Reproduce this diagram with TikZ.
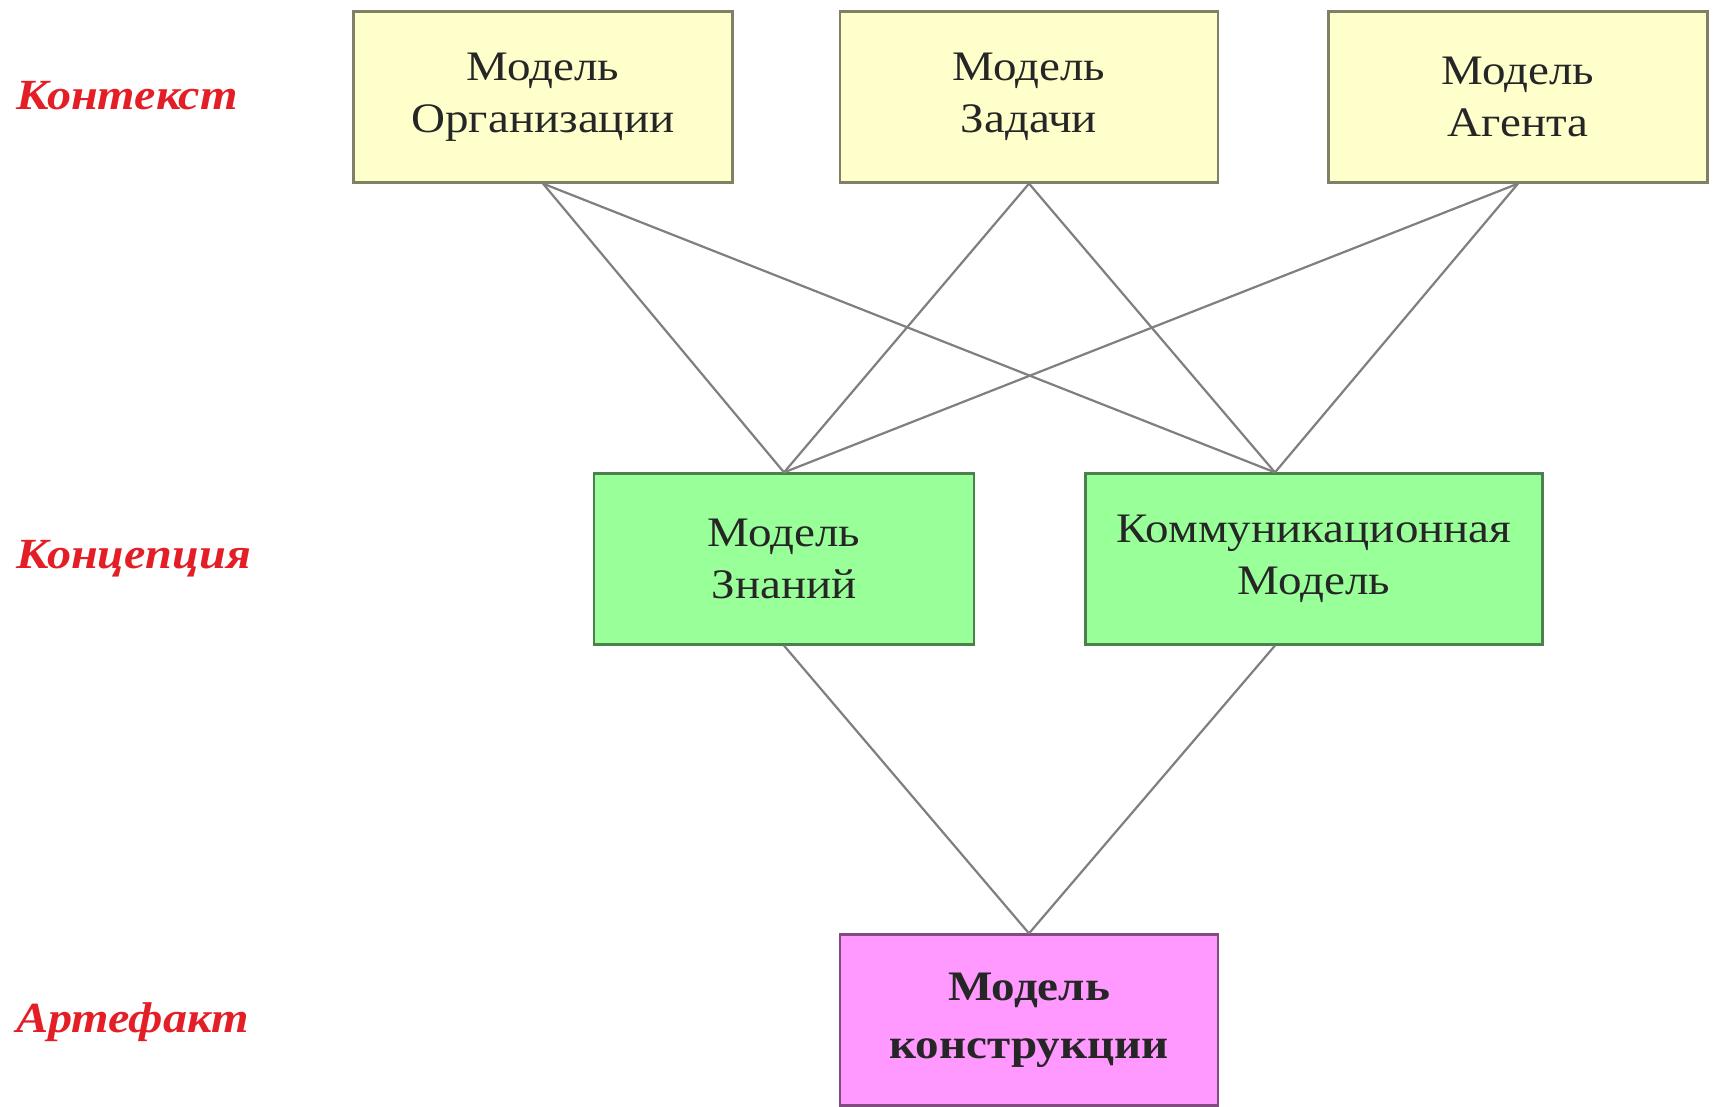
\documentclass[tikz,border=0pt]{standalone}
\usepackage{fontspec}
\setmainfont{Liberation Serif}[FakeStretch=1.12]
\usetikzlibrary{calc}
\definecolor{boxyellow}{HTML}{FFFFCC}
\definecolor{boxgreen}{HTML}{99FF99}
\definecolor{boxpink}{HTML}{FF99FF}
\definecolor{labelred}{HTML}{E41E26}
\definecolor{linegray}{HTML}{7F7F7F}

\begin{document}
\begin{tikzpicture}[x=1pt,y=-1pt,
  model/.style={fill=#1, draw=#1!50!black, line width=2.2pt, minimum height=171pt,
    align=center, inner sep=0pt, text=black!85, font=\fontsize{42}{52}\selectfont},
  layer/.style={text=labelred, anchor=west, inner sep=0pt,
    font=\fontsize{43}{50}\selectfont\bfseries\itshape},
  link/.style={draw=linegray, line width=2.2pt}]
\useasboundingbox (0,0) rectangle (1719,1107);
% top row
\node[model=boxyellow, minimum width=379pt] (org) at (543,97) {Модель\\Организации};
\node[model=boxyellow, minimum width=378pt] (task) at (1029,97) {Модель\\Задачи};
\node[model=boxyellow, minimum width=379pt] (agent) at (1518,97) {Модель\\Агента};
% middle row
\node[model=boxgreen, minimum width=380pt] (know) at (784,559) {Модель\\Знаний};
\node[model=boxgreen, minimum width=457pt] (comm) at (1314,559) {Коммуникационная\\Модель};
% bottom
\node[model=boxpink, minimum width=378pt, font=\fontsize{42}{58}\selectfont\bfseries] (design) at (1029,1020) {Модель\\конструкции};
% row labels
\node[layer] (ctx) at (16,96) {Контекст};
\node[layer] (concept) at (16,559) {Концепция};
\node[layer] (artefact) at (16,1022) {Артефакт};
\coordinate (comm top) at ($(comm.north west)!0.415!(comm.north east)$);
\coordinate (comm bottom) at ($(comm.south west)!0.415!(comm.south east)$);
% connectors
\foreach \src in {org,task,agent} {
  \draw[link] (\src.south) -- (know.north);
  \draw[link] (\src.south) -- (comm top);
}
\draw[link] (know.south) -- (design.north);
\draw[link] (comm bottom) -- (design.north);
\end{tikzpicture}
\end{document}
